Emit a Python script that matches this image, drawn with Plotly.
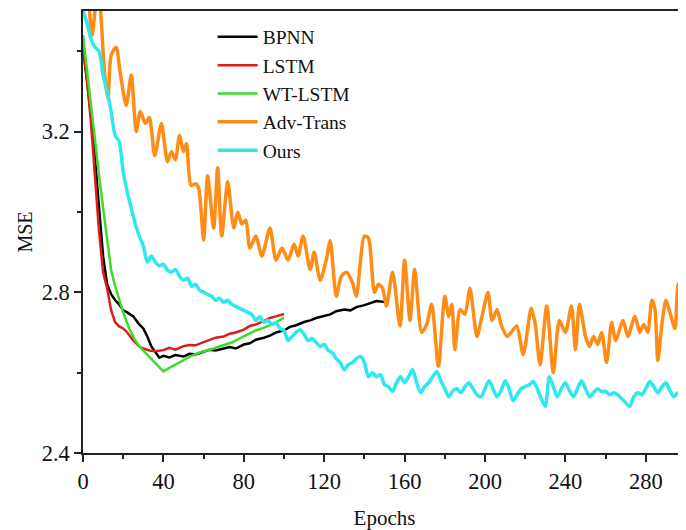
import plotly.graph_objects as go

# ---------------- data ----------------
bpnn_epochs = [0, 2, 4, 6, 8, 10, 12, 14, 16, 18, 20, 22, 25, 28, 30, 32, 34, 36, 38, 40,
               43, 46, 50, 53, 56, 60, 63, 66, 70, 73, 76, 80, 83, 86, 90, 93, 96, 100,
               103, 106, 110, 113, 116, 120, 123, 126, 130, 133, 136, 140, 143, 146, 150]
bpnn_mse = [3.41, 3.33, 3.24, 3.13, 3.00, 2.89, 2.82, 2.795, 2.78, 2.77, 2.755, 2.75, 2.74,
            2.72, 2.71, 2.69, 2.665, 2.65, 2.637, 2.642, 2.638, 2.644, 2.64, 2.647, 2.645,
            2.652, 2.657, 2.655, 2.66, 2.664, 2.66, 2.67, 2.673, 2.682, 2.687, 2.692, 2.70,
            2.705, 2.714, 2.718, 2.726, 2.73, 2.736, 2.742, 2.745, 2.753, 2.757, 2.755, 2.763,
            2.768, 2.773, 2.778, 2.776]

lstm_epochs = [0, 2, 4, 6, 8, 10, 12, 14, 16, 18, 20, 22, 25, 28, 30, 33, 36, 40, 43, 46,
               50, 53, 56, 60, 63, 66, 70, 73, 76, 80, 83, 86, 90, 93, 96, 100]
lstm_mse = [3.41, 3.33, 3.22, 3.08, 2.95, 2.85, 2.81, 2.755, 2.725, 2.715, 2.71, 2.70, 2.68,
            2.665, 2.66, 2.655, 2.653, 2.656, 2.662, 2.657, 2.666, 2.669, 2.668, 2.676, 2.681,
            2.687, 2.69, 2.697, 2.70, 2.707, 2.716, 2.72, 2.728, 2.736, 2.74, 2.746]

wt_epochs = [0, 2, 4, 6, 8, 10, 12, 14, 16, 18, 20, 23, 26, 29, 32, 35, 38, 40, 43, 46,
             50, 54, 58, 62, 66, 70, 74, 78, 82, 86, 90, 94, 97, 100]
wt_mse = [3.44, 3.35, 3.26, 3.18, 3.09, 3.01, 2.93, 2.855, 2.815, 2.78, 2.75, 2.71, 2.68,
          2.66, 2.645, 2.63, 2.615, 2.603, 2.612, 2.62, 2.632, 2.642, 2.65, 2.655, 2.662,
          2.668, 2.675, 2.685, 2.695, 2.705, 2.712, 2.72, 2.728, 2.737]

adv_epochs = [0, 2, 4.5, 7.5, 10.8, 12.4, 14, 16.5, 18.4, 21.5, 24, 26.5, 28.5, 31, 33, 35.7,
              39, 42, 44, 46, 48, 50, 51.5, 53.7, 56, 57.5, 60, 62, 65, 67, 69, 72, 75, 77,
              79, 81, 83, 86, 89, 93, 96, 99, 102, 105, 107, 109.5, 113, 115, 118, 121, 123,
              126, 128.5, 131, 134, 136, 140, 142, 145, 147, 149, 151, 154, 157.7, 160, 162.7,
              165, 168.5, 171, 173.5, 176.8, 180, 182, 183.5, 185, 187.6, 190, 192.5, 196,
              198.5, 201.5, 203.5, 206, 208, 211, 213, 215.8, 219, 223, 225, 227.4, 230.7,
              234, 237, 240, 243, 245, 247, 250, 252, 254, 256, 258, 260.5, 263, 265, 268.7,
              271, 274.6, 277, 279, 281, 283, 284.5, 286, 288, 290, 292, 294.5, 296, 298, 300]
adv_mse = [3.50, 3.56, 3.44, 3.57, 3.34, 3.28, 3.39, 3.41, 3.35, 3.265, 3.34, 3.20, 3.25, 3.22,
           3.235, 3.14, 3.22, 3.125, 3.15, 3.13, 3.19, 3.15, 3.17, 3.066, 3.07, 3.06, 2.93,
           3.09, 2.96, 3.11, 2.94, 3.075, 2.96, 3.00, 2.97, 2.98, 2.91, 2.94, 2.89, 2.96,
           2.88, 2.91, 2.88, 2.92, 2.89, 2.94, 2.857, 2.90, 2.83, 2.88, 2.928, 2.79, 2.84,
           2.85, 2.825, 2.79, 2.94, 2.935, 2.80, 2.82, 2.81, 2.766, 2.85, 2.716, 2.88, 2.73,
           2.857, 2.70, 2.72, 2.77, 2.616, 2.79, 2.74, 2.77, 2.657, 2.757, 2.745, 2.81, 2.69,
           2.74, 2.80, 2.73, 2.757, 2.72, 2.69, 2.70, 2.716, 2.645, 2.76, 2.72, 2.62, 2.766,
           2.60, 2.73, 2.70, 2.766, 2.657, 2.77, 2.69, 2.665, 2.69, 2.67, 2.70, 2.625, 2.725,
           2.68, 2.73, 2.69, 2.74, 2.70, 2.72, 2.70, 2.78, 2.76, 2.63, 2.72, 2.78, 2.75, 2.71,
           2.816, 2.84, 2.91]

ours_epochs = list(range(0, 301, 2))
ours_mse = [3.50, 3.47, 3.43, 3.41, 3.40, 3.34, 3.30, 3.25, 3.19, 3.175,
            3.10, 3.05, 3.01, 2.97, 2.94, 2.915, 2.875, 2.89, 2.875, 2.866,
            2.87, 2.855, 2.85, 2.857, 2.84, 2.83, 2.835, 2.815, 2.82, 2.805,
            2.80, 2.795, 2.79, 2.78, 2.785, 2.775, 2.78, 2.77, 2.765, 2.76,
            2.755, 2.75, 2.745, 2.73, 2.74, 2.725, 2.73, 2.72, 2.725, 2.71,
            2.705, 2.68, 2.69, 2.70, 2.707, 2.695, 2.68, 2.685, 2.675, 2.665,
            2.67, 2.655, 2.65, 2.635, 2.625, 2.607, 2.62, 2.625, 2.635, 2.64,
            2.625, 2.59, 2.60, 2.59, 2.595, 2.57, 2.565, 2.553, 2.575, 2.59,
            2.575, 2.59, 2.607, 2.575, 2.55, 2.565, 2.575, 2.59, 2.603, 2.58,
            2.56, 2.54, 2.555, 2.56, 2.55, 2.565, 2.575, 2.56, 2.545, 2.54,
            2.56, 2.58, 2.56, 2.54, 2.555, 2.58, 2.56, 2.53, 2.545, 2.56,
            2.565, 2.57, 2.578, 2.56, 2.535, 2.516, 2.59, 2.565, 2.54, 2.56,
            2.575, 2.555, 2.54, 2.56, 2.58, 2.56, 2.54, 2.55, 2.56, 2.553,
            2.553, 2.545, 2.55, 2.545, 2.535, 2.525, 2.516, 2.54, 2.55, 2.545,
            2.56, 2.578, 2.565, 2.55, 2.565, 2.575, 2.555, 2.54, 2.55, 2.545,
            2.56]

x_ticks = [0, 40, 80, 120, 160, 200, 240, 280]
y_ticks = [2.4, 2.8, 3.2]

# ---------------- figure ----------------
FONT = "Liberation Serif, Times New Roman, serif"
fig = go.Figure()

series = [
    ("BPNN", bpnn_epochs, bpnn_mse, "#000000", 2.5, "linear"),
    ("LSTM", lstm_epochs, lstm_mse, "#dd1c1c", 2.5, "linear"),
    ("WT-LSTM", wt_epochs, wt_mse, "#3ddc2b", 2.5, "linear"),
    ("Adv-Trans", adv_epochs, adv_mse, "#ff8c17", 3.5, "spline"),
    ("Ours", ours_epochs, ours_mse, "#2ee8f0", 3.5, "spline"),
]
for name, xs, ys, col, w, shape in series:
    line = dict(color=col, width=w, shape=shape)
    if shape == "spline":
        line["smoothing"] = 0.7
    fig.add_trace(go.Scatter(x=xs, y=ys, mode="lines", name=name, line=line))

axis_common = dict(
    showgrid=False, zeroline=False, showline=True, linecolor="#222222", linewidth=1.5,
    mirror=True, ticks="outside", ticklen=7, tickwidth=1.5, tickcolor="#222222",
    tickfont=dict(family=FONT, size=22.5, color="#111111"),
)
fig.update_xaxes(
    range=[0, 300], tickvals=x_ticks, ticktext=[str(v) for v in x_ticks],
    minor=dict(ticks="outside", ticklen=4, dtick=20, tickcolor="#222222", tickwidth=1.5),
    title=dict(text="Epochs", font=dict(family=FONT, size=21, color="#111111"), standoff=18),
    **axis_common,
)
fig.update_yaxes(
    range=[2.4, 3.5], tickvals=y_ticks, ticktext=[f"{v:.1f}" for v in y_ticks],
    minor=dict(ticks="outside", ticklen=4, dtick=0.2, tick0=2.4, tickcolor="#222222", tickwidth=1.5),
    title=dict(text="MSE", font=dict(family=FONT, size=20, color="#111111"), standoff=4),
    **axis_common,
)
# the page places the figure 8px from the top-left corner, so the figure is
# sized to fill the rest of the 686x530 window
fig.update_layout(
    width=678, height=522,
    margin=dict(l=75, r=0, t=3, b=77, autoexpand=False),
    plot_bgcolor="white", paper_bgcolor="white",
    showlegend=True,
    legend=dict(x=0.215, y=0.985, xanchor="left", yanchor="top",
                bgcolor="rgba(0,0,0,0)", font=dict(family=FONT, size=19.5, color="#111111"),
                itemwidth=40),
)
fig.write_html("out.html")
